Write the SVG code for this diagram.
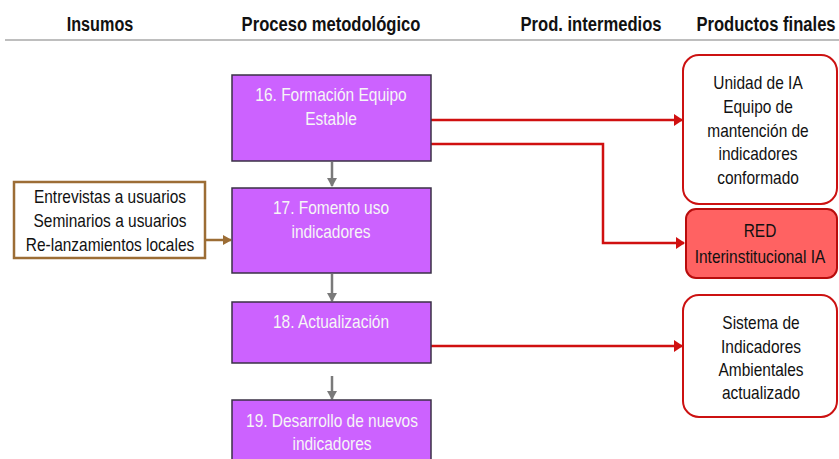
<svg xmlns="http://www.w3.org/2000/svg" width="839" height="459" viewBox="0 0 839 459">
<style>
.h{font-family:"Liberation Sans Narrow","Liberation Sans",sans-serif;font-weight:bold;font-size:20px;fill:#111;text-anchor:middle}
.p{font-family:"Liberation Sans Narrow","Liberation Sans",sans-serif;font-size:18px;fill:#f6f6f6;text-anchor:middle}
.t{font-family:"Liberation Sans Narrow","Liberation Sans",sans-serif;font-size:18px;fill:#111;text-anchor:middle}
.proc{fill:#cc62ff;stroke:#3a3046;stroke-width:1.5}
.out{fill:#fff;stroke:#cc1111;stroke-width:2}
.red{fill:#ff6262;stroke:#b80c0c;stroke-width:2}
.in{fill:#fff;stroke:#9c6d35;stroke-width:2.5}
.g{stroke:#7a7a7a;stroke-width:2.5;fill:none}
.r{stroke:#d01010;stroke-width:2.5;fill:none}
.b{stroke:#9c6d35;stroke-width:2.5;fill:none}
</style>
<defs>
<marker id="ag" markerWidth="10" markerHeight="10" refX="8" refY="5" orient="auto" markerUnits="userSpaceOnUse"><path d="M0,0 L9,5 L0,10 z" fill="#7a7a7a"/></marker>
<marker id="ar" markerWidth="10" markerHeight="12" refX="8" refY="6" orient="auto" markerUnits="userSpaceOnUse"><path d="M0,0 L9,6 L0,12 z" fill="#d01010"/></marker>
<marker id="ab" markerWidth="10" markerHeight="10" refX="8" refY="5" orient="auto" markerUnits="userSpaceOnUse"><path d="M0,0 L9,5 L0,10 z" fill="#9c6d35"/></marker>
</defs>
<g id="header">
<text class="h" transform="translate(100 31) scale(0.81 1)">Insumos</text>
<text class="h" transform="translate(331 31) scale(0.83 1)">Proceso metodológico</text>
<text class="h" transform="translate(591 31) scale(0.83 1)">Prod. intermedios</text>
<text class="h" transform="translate(766 31) scale(0.83 1)">Productos finales</text>
<line x1="5" y1="40" x2="839" y2="40" stroke="#a8a8a8" stroke-width="1.5"/>
</g>
<g id="connectors">
<line class="g" x1="332" y1="162" x2="332" y2="186" marker-end="url(#ag)"/>
<line class="g" x1="332" y1="274" x2="332" y2="301" marker-end="url(#ag)"/>
<line class="g" x1="332" y1="376" x2="332" y2="399" marker-end="url(#ag)"/>
<line class="b" x1="205" y1="240" x2="231" y2="240" marker-end="url(#ab)"/>
<line class="r" x1="431" y1="120" x2="682" y2="120" marker-end="url(#ar)"/>
<polyline class="r" points="431,144 603,144 603,243 684,243" marker-end="url(#ar)"/>
<line class="r" x1="431" y1="346" x2="682" y2="346" marker-end="url(#ar)"/>
</g>
<g id="n16">
<rect class="proc" x="232" y="75" width="199" height="86"/>
<g transform="translate(331 0) scale(0.86 1)">
<text class="p" x="0" y="101">16. Formación Equipo</text>
<text class="p" x="0" y="125">Estable</text>
</g>
</g>
<g id="n17">
<rect class="proc" x="232" y="188" width="199" height="85"/>
<g transform="translate(331 0) scale(0.86 1)">
<text class="p" x="0" y="214">17. Fomento uso</text>
<text class="p" x="0" y="238">indicadores</text>
</g>
</g>
<g id="n18">
<rect class="proc" x="232" y="302" width="199" height="61"/>
<g transform="translate(331 0) scale(0.86 1)">
<text class="p" x="0" y="328">18. Actualización</text>
</g>
</g>
<g id="n19">
<rect class="proc" x="232" y="400" width="199" height="70"/>
<g transform="translate(332 0) scale(0.86 1)">
<text class="p" x="0" y="427">19. Desarrollo de nuevos</text>
<text class="p" x="0" y="450">indicadores</text>
</g>
</g>
<g id="insumos">
<rect class="in" x="14" y="182" width="191" height="76"/>
<g transform="translate(110 0) scale(0.86 1)">
<text class="t" x="0" y="203">Entrevistas a usuarios</text>
<text class="t" x="0" y="227">Seminarios a usuarios</text>
<text class="t" x="0" y="251">Re-lanzamientos locales</text>
</g>
</g>
<g id="unidad">
<rect class="out" x="683" y="55" width="154" height="149" rx="16"/>
<g transform="translate(758 0) scale(0.86 1)">
<text class="t" x="0" y="89">Unidad de IA</text>
<text class="t" x="0" y="113">Equipo de</text>
<text class="t" x="0" y="137">mantención de</text>
<text class="t" x="0" y="160">indicadores</text>
<text class="t" x="0" y="184">conformado</text>
</g>
</g>
<g id="red">
<rect class="red" x="686" y="209" width="151" height="69" rx="10"/>
<g transform="translate(760 0) scale(0.86 1)">
<text class="t" x="0" y="237">RED</text>
<text class="t" x="0" y="263">Interinstitucional IA</text>
</g>
</g>
<g id="sistema">
<rect class="out" x="683" y="295" width="154" height="122" rx="16"/>
<g transform="translate(761 0) scale(0.86 1)">
<text class="t" x="0" y="329">Sistema de</text>
<text class="t" x="0" y="353">Indicadores</text>
<text class="t" x="0" y="376">Ambientales</text>
<text class="t" x="0" y="399">actualizado</text>
</g>
</g>
</svg>
